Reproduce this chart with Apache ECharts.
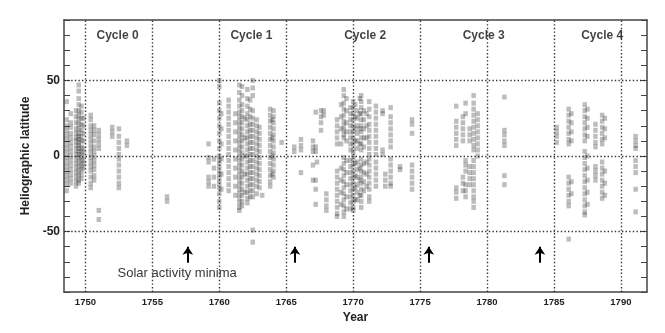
<!DOCTYPE html>
<html>
<head>
<meta charset="utf-8">
<script src="https://cdn.jsdelivr.net/npm/echarts@6/dist/echarts.min.js"></script>
<style>
html,body{margin:0;padding:0;background:#fff}
#chart{width:665px;height:333px}
</style>
</head>
<body>
<div id="chart"></div>
<script>
// sunspot observations, one row per column of marks: [year, [latitudes]]
const cycle0 = [
  [1748.6, [36, 24, 20, 17, 14, 11, 8, 5, 2, -1, -4, -7, -10, -13, -16, -19, -23]],
  [1748.9, [28, 22, 19, 15, 12, 9, 6, 3, 0, -3, -6, -9, -12, -15, -18]],
  [1749.3, [30, 26, 22, 18, 15, 12, 10, 7, 4, 1, -2, -5, -8, -11, -14, -17, -20]],
  [1749.5, [47, 43, 38, 34, 30, 27, 24, 21, 18, 15, 13, 11, 9, 7, 5, 3, 1, -1, -4, -7, -10, -13, -16, -18]],
  [1749.7, [33, 29, 25, 21, 17, 13, 10, 6, 3, 0, -3, -6, -9, -12, -15]],
  [1749.85, [25, 20, 15, 10, 5, 2, -2, -5, -8]],
  [1750.4, [27, 24, 20, 17, 14, 11, 8, 5, 2, -1, -4, -7, -10, -14, -18, -21]],
  [1750.65, [20, 17, 14, 10, 6, 3, 0, -3, -6, -9, -13, -16]],
  [1751.0, [17, 14, 11, 8, 5, -36, -42]],
  [1752.0, [19, 16, 13]],
  [1752.5, [18, 13, 9, 5, 1, -2, -6, -10, -14, -18, -21]],
  [1753.1, [10, 7]],
  [1756.1, [-27, -30]]
];
const cycle1 = [
  [1759.2, [8, -1, -4, -14, -17, -20]],
  [1759.6, [-2, -8, -14, -20]],
  [1760.0, [50, 46, 35, 30, 25, 20, 15, 10, 5, 0, -3, -6, -9, -12, -15, -18, -21, -25, -30, -34]],
  [1760.15, [28, 18, 8, -2, -12, -22]],
  [1760.7, [37, 33, 29, 25, 21, 17, 13, 9, 5, 1, -3, -7, -11, -15, -19, -23]],
  [1761.2, [28, 22, 16, 10, 4, -2, -8, -14, -20, -26]],
  [1761.5, [47, 42, 37, 33, 29, 26, 23, 20, 17, 14, 11, 8, 5, 2, -1, -4, -7, -10, -13, -16, -19, -22, -25, -28, -31, -34, -36]],
  [1761.7, [46, 40, 34, 30, 26, 22, 18, 14, 10, 6, 2, -2, -6, -10, -14, -18, -22, -26, -30, -33]],
  [1761.9, [25, 12, 0, -12, -24]],
  [1762.1, [44, 38, 33, 28, 24, 20, 16, 12, 8, 4, 0, -4, -8, -12, -16, -20, -24, -28, -31]],
  [1762.3, [37, 31, 26, 21, 17, 13, 9, 5, 1, -3, -7, -11, -15, -19, -23, -27]],
  [1762.5, [50, 45, 40, 30, 25, 21, 17, 13, 9, 5, 1, -3, -7, -11, -15, -19, -23, -27, -49, -57]],
  [1762.8, [24, 20, 16, 12, 8, 4, 0, -4, -8, -12, -16, -20, -25]],
  [1763.0, [19, 15, 11, 7, 3, -1, -5, -9, -13, -17, -21]],
  [1763.2, [-26]],
  [1763.8, [31, 27, 23, 19, 15, 11, 7, 3, -1, -5, -9, -13, -17, -20]],
  [1763.95, [24, 12, 0, -12]],
  [1764.05, [30, 26, 22, 18, 14, 10, 6, 2, -2, -6, -10, -14]],
  [1764.66, [9]]
];
const cycle2 = [
  [1765.6, [6, 3]],
  [1766.1, [11, 7, 4, -11]],
  [1767.0, [10, 6, 3, -6, -16]],
  [1767.2, [29, 6, 3, -16, -22, -32]],
  [1767.3, [-4]],
  [1767.6, [30, 26, 22, 17]],
  [1767.8, [30, 27]],
  [1768.0, [-25, -29, -33, -36]],
  [1768.8, [24, 20, 16, 12, 8, -10, -14, -18, -22, -26, -30, -34, -38, -40]],
  [1769.1, [34, 26, 18, 8, -8, -16, -24, -32]],
  [1769.3, [44, 40, 35, 31, 27, 23, 20, 17, 14, 12, -1, -5, -9, -13, -17, -21, -25, -29, -33, -37, -40]],
  [1769.5, [38, 30, 22, 16, 10, -3, -11, -19, -27, -35]],
  [1769.8, [32, 28, 24, 20, 16, 12, 8, 4, -3, -7, -11, -15, -19, -23, -27, -31, -35]],
  [1770.0, [36, 32, 28, 24, 20, 16, 12, 8, 4, 1, -2, -6, -10, -14, -18, -22, -26, -30, -34, -36]],
  [1770.15, [34, 26, 18, 10, -5, -13, -21, -29]],
  [1770.3, [30, 25, 20, 15, 10, 5, -4, -9, -14, -19, -24, -29]],
  [1770.5, [38, 28, 18, 8, -8, -16, -26]],
  [1770.6, [40, 36, 32, 28, 24, 20, 16, 12, 8, 4, -2, -6, -10, -14, -18, -22, -26, -30, -34]],
  [1770.8, [30, 24, 18, 12, 6, -5, -11, -17, -23]],
  [1771.0, [28, 20, 12, -4, -12, -20]],
  [1771.2, [36, 31, 26, 21, 17, 13, 9, 5, 1, -2, -6, -10, -14, -18, -22, -27, -30]],
  [1771.7, [33, 29, 25, 21, 17, 13, 9, 5, 1, -4, -8, -12, -16, -20]],
  [1772.2, [30, 28, 4, 1]],
  [1772.4, [-12, -16, -20]],
  [1772.8, [32, 26, 22, 18, 14, 10, 6, -2, -6, -10, -14, -18, -20]],
  [1773.5, [-7, -9]],
  [1774.4, [24, 21, 15, -6, -10, -14, -18, -22]]
];
const cycle3 = [
  [1777.7, [33, 23, 19, 15, 11, 7, -21, -24, -28]],
  [1778.2, [26, 22, 18, 14, 10, -14, -18, -23]],
  [1778.4, [35, 28, -3, -6, -10, -19, -23, -27]],
  [1778.7, [18, 14, 10, -7, -11, -15, -19]],
  [1779.0, [40, 35, 31, 27, 23, 19, 15, 11, 7, 4, -3, -7, -11, -15, -19, -23, -27, -30, -34]],
  [1779.3, [28, 24, 20, 16, 12, 8, 4, 0]],
  [1781.3, [39, 17, 14, 10, 7, -13, -19]]
];
const cycle4 = [
  [1785.2, [19, 16, 13, 9]],
  [1786.1, [31, 27, 23, 19, 15, 11, 8, -14, -18, -22, -26, -30, -33, -55]],
  [1786.3, [28, 22, 16, 10, -17, -25]],
  [1787.3, [34, 30, 26, 22, 18, 14, 10, 3, -1, -5, -9, -13, -17, -21, -25, -29, -33, -37, -39]],
  [1787.5, [31, 25, 19, 13, 0, -8, -16, -24, -32]],
  [1788.1, [21, 17, 13, 9, 6, -7, -10, -13, -16]],
  [1788.6, [27, 23, 19, 15, 11, 8, -4, -8, -12, -16, -20, -24, -28]],
  [1788.8, [25, 18, 12, -10, -18, -26]],
  [1791.1, [13, 10, 7, 5, -3, -7, -11, -22, -37]]
];

const yearTicks = [1750, 1755, 1760, 1765, 1770, 1775, 1780, 1785, 1790];
const latTicks = [-50, 0, 50];
const cycleNames = ['Cycle 0', 'Cycle 1', 'Cycle 2', 'Cycle 3', 'Cycle 4'];
const cycleYears = [1752.4, 1762.4, 1770.9, 1779.75, 1788.6];
const minimaYears = [1757.65, 1765.65, 1775.65, 1783.95];

function flatten(cols) {
  let out = [];
  cols.forEach(function (c) {
    c[1].forEach(function (lat) { out.push([c[0], lat]); });
  });
  return out;
}

const spots = [].concat(flatten(cycle0), flatten(cycle1), flatten(cycle2), flatten(cycle3), flatten(cycle4));

let chart = echarts.init(document.getElementById('chart'));
const font = 'Liberation Sans, Arial, sans-serif';
const xMin = 1748.4, xMax = 1791.95;
const frame = { show: true, onZero: false, lineStyle: { color: '#444', width: 1.5 } };

let option = {
  animation: false,
  grid: { left: 64, top: 20, right: 18, bottom: 41 },
  xAxis: [{
    type: 'value', min: xMin, max: xMax,
    name: 'Year', nameLocation: 'middle', nameGap: 20,
    nameTextStyle: { fontFamily: font, fontWeight: 'bold', fontSize: 12, color: '#222' },
    axisLine: frame,
    axisTick: { show: false },
    splitLine: { show: false },
    axisLabel: {
      customValues: yearTicks, margin: 5,
      fontFamily: font, fontWeight: 'bold', fontSize: 9.5, color: '#222',
      formatter: function (v) { return String(v); }
    }
  }, {
    type: 'value', min: xMin, max: xMax, position: 'top',
    axisLine: frame,
    axisTick: { show: false }, axisLabel: { show: false }, splitLine: { show: false }
  }],
  yAxis: [{
    type: 'value', min: -90, max: 90, interval: 10,
    name: 'Heliographic latitude', nameLocation: 'middle', nameGap: 22, nameRotate: 90,
    nameTextStyle: { fontFamily: font, fontWeight: 'bold', fontSize: 12, color: '#222' },
    axisLine: frame,
    axisTick: { show: true, inside: true, length: 6, lineStyle: { color: '#444' } },
    splitLine: { show: false },
    axisLabel: {
      margin: 4, fontFamily: font, fontWeight: 'bold', fontSize: 12, color: '#222',
      formatter: function (v) { return latTicks.indexOf(v) >= 0 ? String(v) : ''; }
    }
  }, {
    type: 'value', min: -90, max: 90, interval: 10, position: 'right',
    axisLine: frame,
    axisTick: { show: true, inside: true, length: 6, lineStyle: { color: '#444' } },
    axisLabel: { show: false }, splitLine: { show: false }
  }],
  series: [{
    type: 'scatter',
    data: spots,
    symbol: 'rect',
    symbolSize: [4.5, 5],
    itemStyle: { color: 'rgba(30,30,30,0.37)' },
    silent: true,
    markLine: {
      silent: true, symbol: 'none', animation: false,
      label: { show: false },
      lineStyle: { color: '#333', type: [1.4, 2.2], width: 1.4 },
      data: yearTicks.map(function (y) { return { xAxis: y }; })
        .concat(latTicks.map(function (l) { return { yAxis: l }; }))
    }
  }, {
    type: 'scatter',
    data: [],
    silent: true,
    markLine: {
      silent: true, symbol: ['none', 'arrow'], symbolSize: 8, animation: false,
      label: { show: false },
      lineStyle: { color: '#000', type: 'solid', width: 2 },
      itemStyle: { color: '#000' },
      data: minimaYears.map(function (y) { return [{ coord: [y, -70.6] }, { coord: [y, -60] }]; })
    }
  }, {
    type: 'scatter',
    symbolSize: 0,
    silent: true,
    data: cycleNames.map(function (n, i) { return { name: n, value: [cycleYears[i], 79.5] }; }),
    label: {
      show: true, position: 'inside', formatter: '{b}',
      fontFamily: font, fontWeight: 'bold', fontSize: 12, color: '#111'
    }
  }, {
    type: 'scatter',
    symbolSize: 0,
    silent: true,
    data: [{ name: 'Solar activity minima', value: [1752.4, -78] }],
    label: {
      show: true, position: 'inside', align: 'left', formatter: '{b}',
      fontFamily: font, fontSize: 13, color: '#000'
    }
  }]
};
chart.setOption(option);
window.addEventListener('resize', function () { chart.resize(); });
</script>
</body>
</html>
